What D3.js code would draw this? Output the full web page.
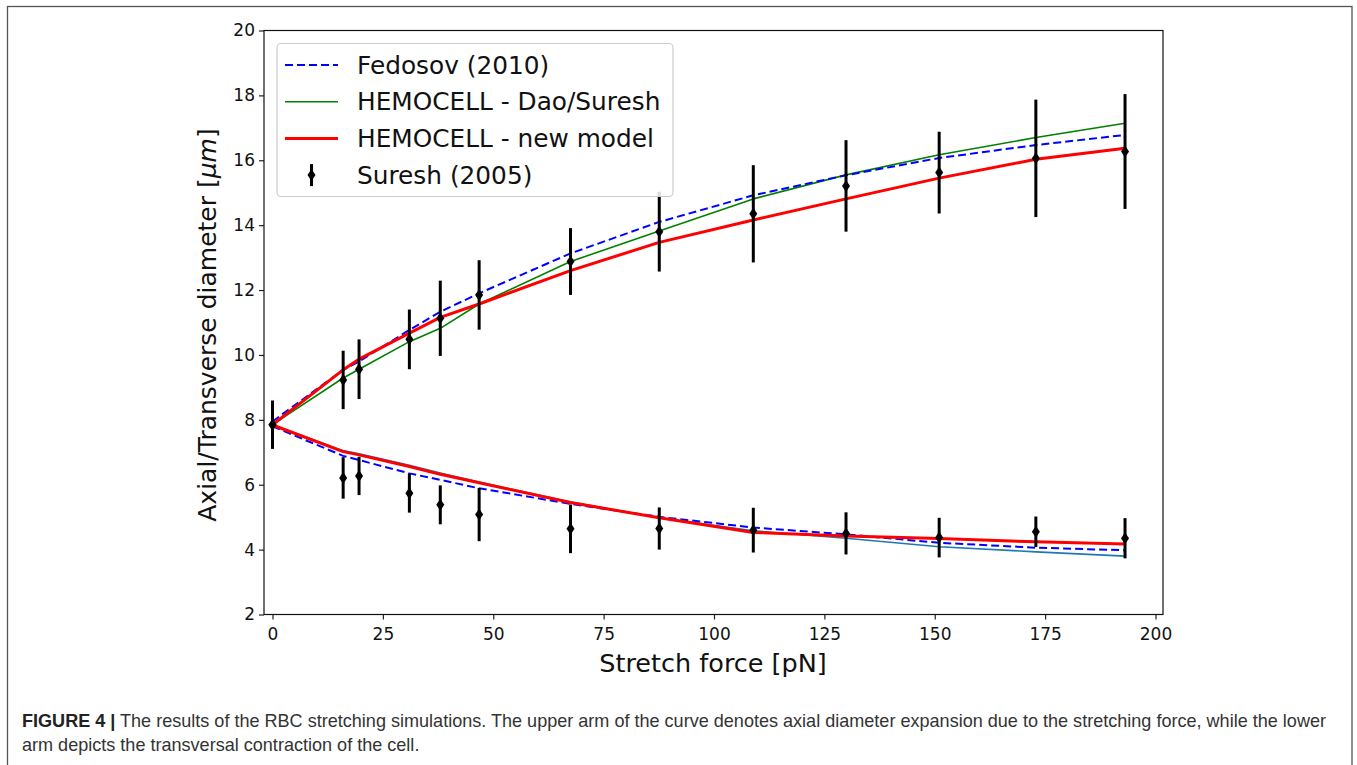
<!DOCTYPE html>
<html>
<head>
<meta charset="utf-8">
<script src="https://cdn.jsdelivr.net/npm/d3@7"></script>
<style>
  body { margin: 0; background: #fff; }
  svg { display: block; }
</style>
</head>
<body>
<script>
// forces in pN
const force = [0, 16.0, 19.6, 31.0, 38.0, 46.8, 67.5, 87.6, 108.9, 129.9, 151.0, 172.9, 193.1];

// Suresh (2005) experiment
const sureshUpper = [7.85, 9.23, 9.56, 10.48, 11.13, 11.85, 12.88, 13.80, 14.35, 15.21, 15.62, 16.06, 16.27];
const sureshUpperErr = [0.74, 0.9, 0.92, 0.92, 1.16, 1.07, 1.03, 1.23, 1.5, 1.41, 1.26, 1.81, 1.77];
const sureshLower = [7.85, 6.21, 6.27, 5.74, 5.38, 5.08, 4.64, 4.65, 4.60, 4.50, 4.37, 4.55, 4.35];
const sureshLowerErr = [0.74, 0.64, 0.59, 0.6, 0.6, 0.82, 0.75, 0.65, 0.69, 0.65, 0.61, 0.47, 0.62];

// Fedosov (2010)
const fedosovUpper = [7.95, 9.54, 9.8, 10.77, 11.33, 11.90, 13.13, 14.10, 14.92, 15.54, 16.07, 16.47, 16.78];
const fedosovLower = [7.8, 6.89, 6.76, 6.35, 6.15, 5.89, 5.41, 5.01, 4.68, 4.47, 4.21, 4.06, 3.98];

// HEMOCELL - Dao/Suresh
const daoUpper = [7.85, 9.29, 9.56, 10.41, 10.82, 11.57, 12.88, 13.82, 14.81, 15.55, 16.17, 16.70, 17.14];
const daoLower = [7.85, 7.05, 6.95, 6.6, 6.36, 6.08, 5.47, 4.98, 4.58, 4.35, 4.09, 3.93, 3.80];

// HEMOCELL - new model
const newUpper = [7.85, 9.54, 9.87, 10.67, 11.16, 11.57, 12.60, 13.47, 14.16, 14.81, 15.45, 16.03, 16.37];
const newLower = [7.84, 7.02, 6.92, 6.56, 6.32, 6.06, 5.45, 4.98, 4.53, 4.42, 4.34, 4.24, 4.17];

const xTicks = [0, 25, 50, 75, 100, 125, 150, 175, 200];
const yTicks = [2, 4, 6, 8, 10, 12, 14, 16, 18, 20];
const legendLabels = ["Fedosov (2010)", "HEMOCELL - Dao/Suresh", "HEMOCELL - new model", "Suresh (2005)"];

const W = 1357, H = 765;
const margin = {top: 30.5, left: 264, right: W - 1163, bottom: H - 614.5};

const svg = d3.select("body").append("svg")
  .attr("width", W).attr("height", H);

// outer figure frame
svg.append("rect")
  .attr("x", 7.5).attr("y", 6.5)
  .attr("width", 1344.5).attr("height", 770)
  .attr("fill", "none").attr("stroke", "#555").attr("stroke-width", 1.3);

const x = d3.scaleLinear().domain([-1.93, 201.7]).range([margin.left, W - margin.right]);
const y = d3.scaleLinear().domain([2, 20]).range([H - margin.bottom, margin.top]);

const g = svg.append("g");

const line = d3.line().x((d, i) => x(force[i])).y(d => y(d));

function drawLine(vals, color, width, dash){
  g.append("path")
    .datum(vals)
    .attr("fill", "none")
    .attr("stroke", color)
    .attr("stroke-width", width)
    .attr("stroke-linejoin", "round")
    .attr("stroke-dasharray", dash || null)
    .attr("d", line);
}

drawLine(daoLower, "#1f77b4", 1.6);
drawLine(daoUpper, "green", 1.6);
drawLine(fedosovUpper, "blue", 2, "8,4");
drawLine(fedosovLower, "blue", 2, "8,4");
drawLine(newUpper, "red", 3);
drawLine(newLower, "red", 3);

const diamond = "M0,-6L4,0L0,6L-4,0Z";

// error bars
function drawErr(vals, errs){
  const grp = g.append("g");
  grp.selectAll("line")
    .data(vals)
    .enter()
    .append("line")
    .attr("x1", (d, i) => x(force[i]))
    .attr("x2", (d, i) => x(force[i]))
    .attr("y1", (d, i) => y(d - errs[i]))
    .attr("y2", (d, i) => y(d + errs[i]))
    .attr("stroke", "black")
    .attr("stroke-width", 3);
  grp.selectAll("path")
    .data(vals)
    .enter()
    .append("path")
    .attr("d", diamond)
    .attr("transform", (d, i) => "translate(" + x(force[i]) + "," + y(d) + ")")
    .attr("fill", "black");
}
drawErr(sureshUpper, sureshUpperErr);
drawErr(sureshLower, sureshLowerErr);

// axes
const xAxis = svg.append("g")
  .attr("transform", "translate(0," + (H - margin.bottom) + ")")
  .call(d3.axisBottom(x).tickValues(xTicks).tickSize(5).tickPadding(4).tickSizeOuter(0));
const yAxis = svg.append("g")
  .attr("transform", "translate(" + margin.left + ",0)")
  .call(d3.axisLeft(y).tickValues(yTicks).tickSize(5).tickPadding(4).tickSizeOuter(0));

[xAxis, yAxis].forEach(a => {
  a.selectAll("text").attr("font-family", "DejaVu Sans").attr("font-size", 17).attr("fill", "#111");
  a.selectAll("line").attr("stroke", "#222").attr("stroke-width", 1.2);
  a.select(".domain").remove();
});
xAxis.selectAll("text").attr("dy", "0.95em");

svg.append("rect")
  .attr("x", margin.left).attr("y", margin.top)
  .attr("width", W - margin.right - margin.left)
  .attr("height", H - margin.bottom - margin.top)
  .attr("fill", "none").attr("stroke", "#111").attr("stroke-width", 1.2);

// axis labels
svg.append("text")
  .attr("x", 713)
  .attr("y", 672)
  .attr("text-anchor", "middle")
  .attr("font-family", "DejaVu Sans").attr("font-size", 25.5).attr("fill", "#111")
  .text("Stretch force [pN]");

const yl = svg.append("text")
  .attr("transform", "translate(216,325) rotate(-90)")
  .attr("text-anchor", "middle")
  .attr("font-family", "DejaVu Sans").attr("font-size", 25).attr("fill", "#111");
yl.append("tspan").text("Axial/Transverse diameter [");
yl.append("tspan").attr("font-style", "italic").text("\u03bcm");
yl.append("tspan").text("]");

// legend
const lg = svg.append("g");
lg.append("rect")
  .attr("x", 277).attr("y", 43.5).attr("width", 396).attr("height", 153)
  .attr("rx", 4)
  .attr("fill", "white").attr("fill-opacity", 0.85)
  .attr("stroke", "#ccc").attr("stroke-width", 1.2);

const legendStyles = [
  {color: "blue", width: 2, dash: "8,4"},
  {color: "green", width: 1.6},
  {color: "red", width: 3}
];
legendLabels.forEach((lab, i) => {
  const cy = 65 + i * 36.7;
  if (i < 3) {
    const s = legendStyles[i];
    lg.append("line")
      .attr("x1", 285).attr("x2", 338).attr("y1", cy).attr("y2", cy)
      .attr("stroke", s.color).attr("stroke-width", s.width)
      .attr("stroke-dasharray", s.dash || null);
  } else {
    lg.append("line")
      .attr("x1", 311.5).attr("x2", 311.5).attr("y1", cy - 11).attr("y2", cy + 11)
      .attr("stroke", "black").attr("stroke-width", 3);
    lg.append("path")
      .attr("d", diamond)
      .attr("transform", "translate(311.5," + cy + ")")
      .attr("fill", "black");
  }
  lg.append("text")
    .attr("x", 357).attr("y", cy)
    .attr("dy", "0.35em")
    .attr("font-family", "DejaVu Sans").attr("font-size", 24.8).attr("fill", "#111")
    .text(lab);
});

// caption
const cap1 = svg.append("text")
  .attr("x", 22).attr("y", 727)
  .attr("font-family", "Liberation Sans").attr("font-size", 18.5).attr("fill", "#333");
cap1.append("tspan").attr("font-weight", "bold").attr("fill", "#222").text("FIGURE 4 |");
cap1.append("tspan").text(" The results of the RBC stretching simulations. The upper arm of the curve denotes axial diameter expansion due to the stretching force, while the lower");

const cap2 = svg.append("text")
  .attr("x", 22).attr("y", 751)
  .attr("font-family", "Liberation Sans").attr("font-size", 18.5).attr("fill", "#333")
  .text("arm depicts the transversal contraction of the cell.");

// squeeze both lines by the same factor so line 1 ends where it does in the figure
const natural1 = cap1.node().getComputedTextLength();
const k = (1326 - 22) / natural1;
cap1.attr("textLength", natural1 * k).attr("lengthAdjust", "spacingAndGlyphs");
cap2.attr("textLength", cap2.node().getComputedTextLength() * k).attr("lengthAdjust", "spacingAndGlyphs");
</script>
</body>
</html>
